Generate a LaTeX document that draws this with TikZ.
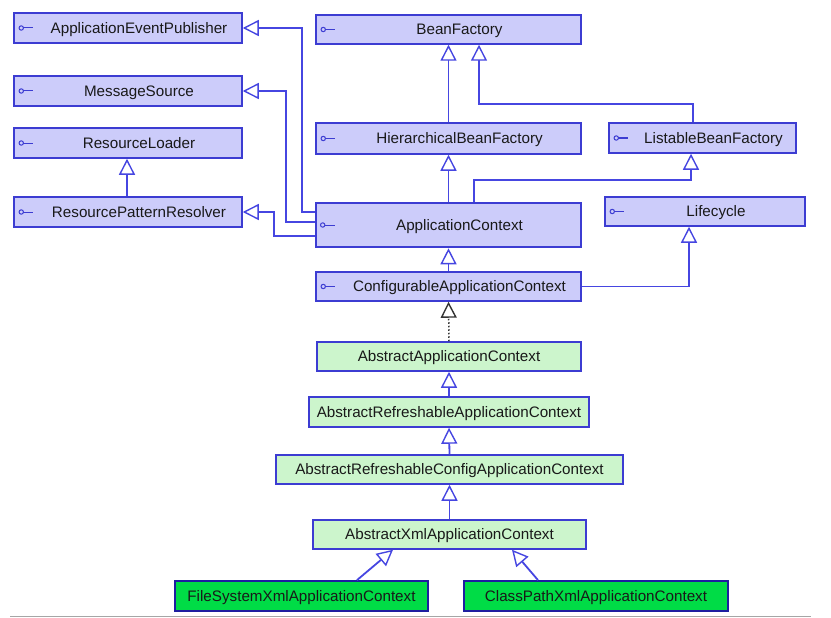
\documentclass[tikz,border=0pt]{standalone}
\usepackage{fontspec}
\setmainfont{Liberation Sans}
\usetikzlibrary{arrows.meta}
\definecolor{lav}{RGB}{204,204,250}
\definecolor{bord}{RGB}{60,60,210}
\definecolor{lgreen}{RGB}{204,245,204}
\definecolor{bgreen}{RGB}{0,220,70}
\definecolor{dblue}{RGB}{30,30,160}
\definecolor{conn}{RGB}{70,70,225}
\begin{document}
\begin{tikzpicture}[x=1pt,y=-1pt,
  every node/.style={font=\fontsize{15.2}{17}\selectfont, inner sep=0pt, text=black!90, text height=10.9pt, text depth=0pt},
  ibox/.style={draw=bord, fill=lav, line width=1.5pt},
  gbox/.style={draw=bord, fill=lgreen, line width=1.5pt},
  bbox/.style={draw=dblue, fill=bgreen, line width=1.8pt},
  gen/.style={draw=conn, line width=1.8pt, -{Triangle[open, fill=white, length=16pt, width=16pt, line width=1.4pt]}},
  real/.style={draw=black!80, line width=1.5pt, dotted, -{Triangle[open, fill=white, length=16pt, width=16pt, line width=1.4pt]}},
  icon/.style={draw=bord, line width=1pt}
]
\useasboundingbox (0,0) rectangle (831,618);
% interface boxes
\node[ibox, minimum width=228pt, minimum height=30pt] (aep) at (128,28) {\hspace*{22pt}ApplicationEventPublisher};
\node[ibox, minimum width=228pt, minimum height=30pt] (ms) at (128,91) {\hspace*{22pt}MessageSource};
\node[ibox, minimum width=228pt, minimum height=30pt] (rl) at (128,143) {\hspace*{22pt}ResourceLoader};
\node[ibox, minimum width=228pt, minimum height=30pt] (rpr) at (128,212) {\hspace*{22pt}ResourcePatternResolver};
\node[ibox, minimum width=265pt, minimum height=29pt] (bf) at (448.5,29.5) {\hspace*{22pt}BeanFactory};
\node[ibox, minimum width=265pt, minimum height=31pt] (hbf) at (448.5,138.5) {\hspace*{22pt}HierarchicalBeanFactory};
\node[ibox, minimum width=187pt, minimum height=30pt] (lbf) at (702.5,138) {\hspace*{22pt}ListableBeanFactory};
\node[ibox, line width=2.6pt, minimum width=265pt, minimum height=44pt] (ac) at (448.5,225) {\hspace*{22pt}ApplicationContext};
\node[ibox, minimum width=200pt, minimum height=29pt] (lc) at (705,211.5) {\hspace*{22pt}Lifecycle};
\node[ibox, minimum width=265pt, minimum height=29pt] (cac) at (448.5,286.5) {\hspace*{22pt}ConfigurableApplicationContext};
% class boxes
\node[gbox, minimum width=264pt, minimum height=29pt] (aac) at (449,356.5) {AbstractApplicationContext};
\node[gbox, minimum width=280pt, minimum height=30pt] (arac) at (449,412) {AbstractRefreshableApplicationContext};
\node[gbox, minimum width=347pt, minimum height=29pt] (arcac) at (449.5,469.5) {AbstractRefreshableConfigApplicationContext};
\node[gbox, minimum width=273pt, minimum height=29pt] (axac) at (449.5,534.5) {AbstractXmlApplicationContext};
\node[bbox, minimum width=253pt, minimum height=30pt] (fsx) at (301.5,596) {FileSystemXmlApplicationContext};
\node[bbox, minimum width=264pt, minimum height=30pt] (cpx) at (596,596) {ClassPathXmlApplicationContext};
% interface icons
\foreach \n in {aep,ms,rl,rpr,bf,hbf,lbf,ac,lc,cac}{
  \draw[icon] ([xshift=8pt]\n.west) circle (2.2pt);
  \draw[icon] ([xshift=10.2pt]\n.west) -- ([xshift=20pt]\n.west);
}
% connectors
\draw[gen] ([yshift=13pt]ac.west) -- ++(-13,0) |- (aep.east);
\draw[gen] ([yshift=3pt]ac.west) -- ++(-29,0) |- (ms.east);
\draw[gen] ([yshift=-11pt]ac.west) -- ++(-41,0) |- (rpr.east);
\draw[gen] ([xshift=-1pt]rpr.north) -- ([xshift=-1pt]rl.south);
\draw[gen] (hbf.north) -- (bf.south);
\draw[gen] ([xshift=-9.5pt]lbf.north) -- ++(0,-18) -| ([xshift=30.5pt]bf.south);
\draw[gen] (ac.north) -- (hbf.south);
\draw[gen] ([xshift=25.5pt]ac.north) -- ++(0,-22) -| ([xshift=-11.5pt]lbf.south);
\draw[gen] (cac.north) -- (ac.south);
\draw[gen] (cac.east) -| ([xshift=-16pt]lc.south);
\draw[real] (aac.north) -- (cac.south);
\draw[gen] (arac.north) -- (aac.south);
\draw[gen] (arcac.north) -- (arac.south);
\draw[gen] (axac.north) -- (arcac.south);
\draw[gen] ([xshift=55.5pt]fsx.north) -- ([xshift=-56.5pt]axac.south);
\draw[gen] ([xshift=-58pt]cpx.north) -- ([xshift=62.5pt]axac.south);
% bottom rule
\draw[gray!70, line width=1pt] (10,616) -- (811,616);
\end{tikzpicture}
\end{document}
